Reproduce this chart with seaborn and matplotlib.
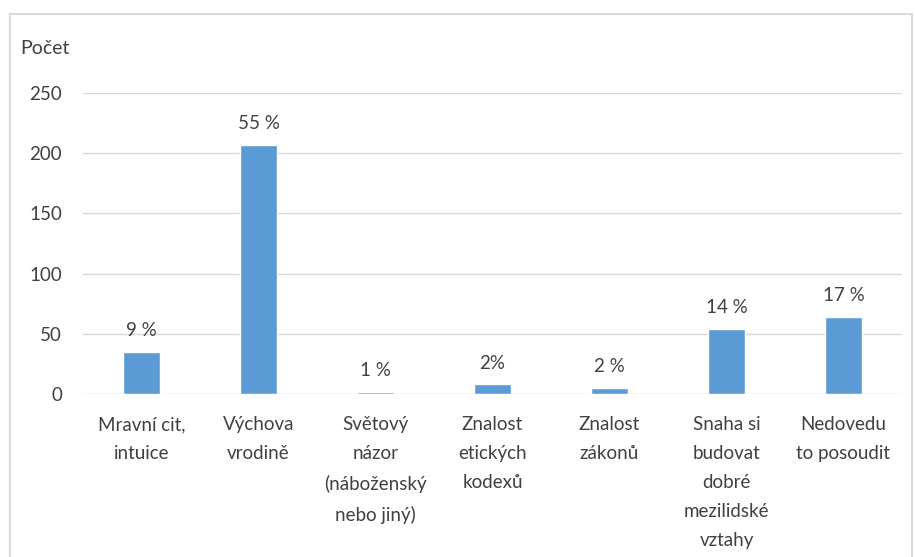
import matplotlib
matplotlib.use("Agg")
import matplotlib.pyplot as plt
import seaborn as sns
import pandas as pd
from matplotlib.patches import Rectangle

# data
categories = [
    "Mravní cit,\nintuice",
    "Výchova\nvrodině",
    "Světový\nnázor\n(náboženský\nnebo jiný)",
    "Znalost\netických\nkodexů",
    "Znalost\nzákonů",
    "Snaha si\nbudovat\ndobré\nmezilidské\nvztahy",
    "Nedovedu\nto posoudit",
]
counts = [35, 207, 2, 8, 5, 54, 64]
pct_labels = ["9 %", "55 %", "1 %", "2%", "2 %", "14 %", "17 %"]
y_ticks = [0, 50, 100, 150, 200, 250]

df = pd.DataFrame({"kategorie": categories, "pocet": counts})

sns.set_style("white")
plt.rcParams["font.family"] = ["Lato", "DejaVu Sans"]
text_col = "#404040"
grid_col = "#d9d9d9"

fig = plt.figure(figsize=(9.15, 5.57), dpi=100)
W, H = 915, 557
ax = fig.add_axes([83 / W, 1 - 394 / H, (902 - 83) / W, (394 - 93) / H])

sns.barplot(data=df, x="kategorie", y="pocet", color="#5b9bd5",
            width=0.31, saturation=1, ax=ax, zorder=3)

ax.set_ylim(0, 250)
ax.set_yticks(y_ticks)
ax.set_xlim(-0.5, len(categories) - 0.5)
ax.yaxis.grid(True, color=grid_col, linewidth=1, zorder=0)
for s in ax.spines.values():
    s.set_visible(False)
ax.set_xlabel("")
ax.set_ylabel("")
ax.tick_params(axis="y", length=0, pad=15, labelsize=13.5, labelcolor=text_col)
ax.tick_params(axis="x", length=0, pad=16, labelsize=13.5, labelcolor=text_col)
for lbl in ax.get_xticklabels():
    lbl.set_linespacing(1.85)
    lbl.set_va("top")

for i, (v, t) in enumerate(zip(counts, pct_labels)):
    ax.annotate(t, (i, v), xytext=(0, 9), textcoords="offset points",
                ha="center", va="bottom", fontsize=13.5, color=text_col)

fig.text(20 / W, 1 - 48 / H, "Počet", ha="left", va="center",
         fontsize=14, color=text_col)

# light frame around the chart area
fig.patches.append(Rectangle((10 / W, -0.05), (912 - 10) / W, 1 - 14 / H + 0.05,
                             transform=fig.transFigure, fill=False,
                             edgecolor=grid_col, linewidth=1.5))

fig.savefig("out.png", dpi=100)
